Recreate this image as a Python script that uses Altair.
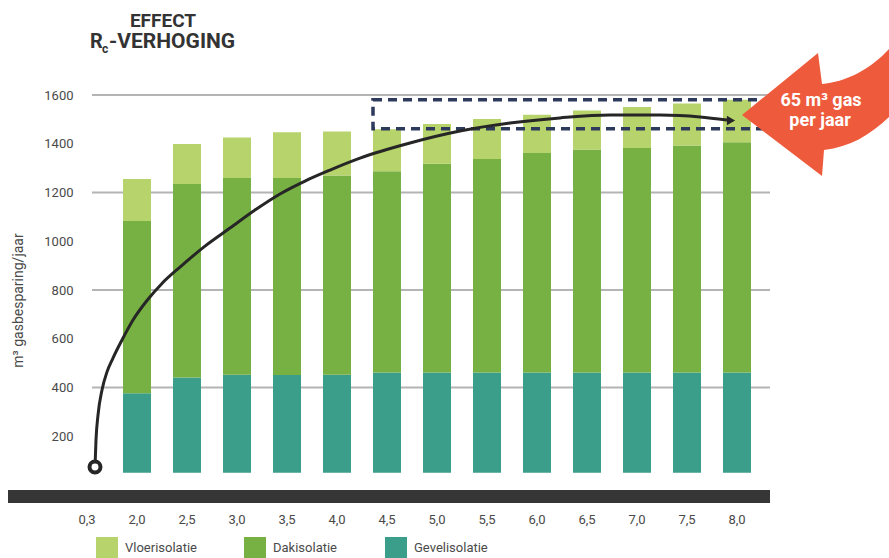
import altair as alt
import pandas as pd

# ---------------- data ----------------
categories = ["0,3", "2,0", "2,5", "3,0", "3,5", "4,0", "4,5", "5,0",
              "5,5", "6,0", "6,5", "7,0", "7,5", "8,0"]
bar_categories = categories[1:]
base_value = 50
gevel_top = [376, 441, 452, 451, 452, 462, 462, 462, 462, 462, 462, 462, 462]
dak_top = [1083, 1235, 1259, 1259, 1270, 1287, 1318, 1337, 1362, 1376, 1383, 1393, 1406]
vloer_top = [1255, 1399, 1426, 1447, 1450, 1460, 1481, 1502, 1519, 1536, 1551, 1565, 1581]

series = ["Vloerisolatie", "Dakisolatie", "Gevelisolatie"]
series_colors = ["#b7d36c", "#78b143", "#3a9e8b"]

y_tick_values = [200, 400, 600, 800, 1000, 1200, 1400, 1600]
grid_values = [400, 800, 1200, 1600]

# annotation curve, in category-index units (x) and m3 (y)
curve_x = [0.16, 0.18, 0.22, 0.30, 0.40, 0.52, 0.70, 0.92, 1.20, 1.50, 1.86, 2.36,
           2.86, 3.36, 3.86, 4.36, 4.86, 5.46, 6.46, 7.46, 8.46, 9.46, 10.46,
           11.46, 12.26, 12.80]
curve_y = [74, 185, 287, 390, 464, 521, 595, 677, 757, 827, 894, 980,
           1054, 1128, 1194, 1247, 1292, 1341, 1403, 1452, 1485, 1506, 1518,
           1518, 1510, 1497]
start_point = (0.16, 74)
arrow_tip = (12.88, 1495)
box_x = [5.72, 13.7]
box_y = [1462, 1581]

# ---------------- tables ----------------
rows = []
for i, c in enumerate(bar_categories):
    rows.append({"cat": c, "series": "Gevelisolatie", "start": base_value, "end": gevel_top[i]})
    rows.append({"cat": c, "series": "Dakisolatie", "start": gevel_top[i], "end": dak_top[i]})
    rows.append({"cat": c, "series": "Vloerisolatie", "start": dak_top[i], "end": vloer_top[i]})
bars_df = pd.DataFrame(rows)
curve_df = pd.DataFrame({"cx": curve_x, "cy": curve_y, "o": list(range(len(curve_x)))})
grid_df = pd.DataFrame({"v": grid_values})
box_df = pd.DataFrame([{"x1": box_x[0], "x2": box_x[1], "y1": box_y[0], "y2": box_y[1]}])
start_df = pd.DataFrame([{"cx": start_point[0], "cy": start_point[1]}])
tip_df = pd.DataFrame([{"cx": arrow_tip[0], "cy": arrow_tip[1]}])

FONT = "Roboto"
TXT = "#4a4a4a"

y_scale = alt.Scale(domain=[0, 1600], nice=False, zero=True)
qx_scale = alt.Scale(domain=[-0.5, 13.5], nice=False, zero=False)
one = alt.Data(values=[{}])

grid = alt.Chart(grid_df).mark_rule(color="#b4b4b4", strokeWidth=2).encode(
    y=alt.Y("v:Q", scale=y_scale, axis=None),
    x=alt.value(30), x2=alt.value(708),
)

floor_bar = alt.Chart(one).mark_rect(color="#363636").encode(
    x=alt.value(-54), x2=alt.value(708), y=alt.value(395), y2=alt.value(408)
)

bars = alt.Chart(bars_df).mark_bar().encode(
    x=alt.X("cat:N", sort=categories,
            scale=alt.Scale(domain=categories, paddingInner=0.44, paddingOuter=0.22),
            axis=alt.Axis(title=None, domain=False, ticks=False, tickSize=0,
                          labelPadding=28, labelAngle=0, labelFontSize=13,
                          labelColor=TXT, labelFont=FONT)),
    y=alt.Y("start:Q", scale=y_scale,
            axis=alt.Axis(values=y_tick_values, format="d", title="m³ gasbesparing/jaar",
                          grid=False, domain=False, ticks=False, tickSize=0, offset=-14,
                          labelPadding=3, labelFontSize=13, labelColor=TXT, labelFont=FONT,
                          titleFont=FONT, titleFontSize=14, titleFontWeight="normal",
                          titleColor=TXT, titleX=-58, titleY=205, titleAngle=270,
                          titleBaseline="middle", titleAlign="center")),
    y2="end:Q",
    color=alt.Color("series:N", sort=series,
                    scale=alt.Scale(domain=series, range=series_colors),
                    legend=alt.Legend(orient="none", legendX=34, legendY=442,
                                      direction="horizontal", title=None,
                                      symbolType="square", symbolSize=484,
                                      symbolStrokeWidth=0, symbolOpacity=1,
                                      labelFontSize=13, labelFont=FONT, labelColor=TXT,
                                      labelOffset=7, columnPadding=47, padding=0)),
)

box = alt.Chart(box_df).mark_rect(filled=False, stroke="#2e3a5c", strokeWidth=3.5,
                                  strokeDash=[9, 6]).encode(
    x=alt.X("x1:Q", scale=qx_scale, axis=None), x2="x2:Q",
    y=alt.Y("y1:Q", scale=y_scale, axis=None), y2="y2:Q",
)

curve = alt.Chart(curve_df).mark_line(color="#262626", strokeWidth=3,
                                      interpolate="monotone").encode(
    x=alt.X("cx:Q", scale=qx_scale, axis=None),
    y=alt.Y("cy:Q", scale=y_scale, axis=None),
    order="o:Q",
)

tip = alt.Chart(tip_df).mark_point(shape="triangle-right", filled=True, size=90,
                                   color="#262626", opacity=1).encode(
    x=alt.X("cx:Q", scale=qx_scale, axis=None),
    y=alt.Y("cy:Q", scale=y_scale, axis=None),
)

start = alt.Chart(start_df).mark_point(shape="circle", filled=True, size=120,
                                       fill="white", stroke="#262626", strokeWidth=4,
                                       opacity=1).encode(
    x=alt.X("cx:Q", scale=qx_scale, axis=None),
    y=alt.Y("cy:Q", scale=y_scale, axis=None),
)

arrow_path = ("M -78 0 L -2 -62 L 2 -31 C 25 -33 50 -45 69 -66 L 69 2 "
              "C 50 20 30 32 4 35 L 2 61 Z")
red_arrow = alt.Chart(one).mark_point(shape=arrow_path, filled=True, size=4,
                                      color="#ee5a3c", opacity=1, strokeWidth=0).encode(
    x=alt.value(758), y=alt.value(20)
)

arrow_text1 = alt.Chart(one).mark_text(text="65 m³ gas", font=FONT, fontSize=18,
                                       fontWeight="bold", color="white",
                                       baseline="middle", align="center").encode(
    x=alt.value(759), y=alt.value(6))
arrow_text2 = alt.Chart(one).mark_text(text="per jaar", font=FONT, fontSize=18,
                                       fontWeight="bold", color="white",
                                       baseline="middle", align="center").encode(
    x=alt.value(758), y=alt.value(26))

t1 = alt.Chart(one).mark_text(text="EFFECT", font=FONT, fontSize=19, fontWeight="bold",
                              color="#333333", baseline="alphabetic", align="center").encode(
    x=alt.value(101), y=alt.value(-68))
t2 = alt.Chart(one).mark_text(text="R", font=FONT, fontSize=20, fontWeight="bold",
                              color="#333333", baseline="alphabetic", align="left").encode(
    x=alt.value(28), y=alt.value(-47))
t3 = alt.Chart(one).mark_text(text="c", font=FONT, fontSize=12, fontWeight="bold",
                              color="#333333", baseline="alphabetic", align="left").encode(
    x=alt.value(40), y=alt.value(-42))
t4 = alt.Chart(one).mark_text(text="-VERHOGING", font=FONT, fontSize=21, fontWeight="bold",
                              color="#333333", baseline="alphabetic", align="left").encode(
    x=alt.value(47), y=alt.value(-47))

chart = alt.layer(
    grid, floor_bar, bars, box, curve, tip, start, red_arrow,
    arrow_text1, arrow_text2, t1, t2, t3, t4
).resolve_scale(x="independent").resolve_axis(x="independent", y="independent").properties(
    width=700, height=390,
    autosize=alt.AutoSizeParams(type="none"),
    padding={"left": 62, "top": 95, "right": 127, "bottom": 73},
).configure(font=FONT).configure_view(stroke=None)

chart.save("out.html", embed_options={"renderer": "svg", "actions": False})
